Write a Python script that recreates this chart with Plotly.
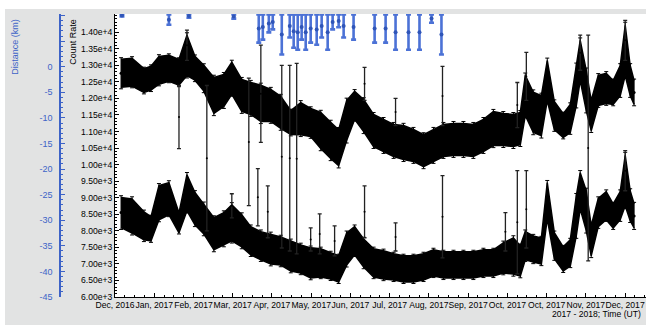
import numpy as np
import pandas as pd
import plotly.graph_objects as go

# ---------------- data (time = days since 2017-01-01 00:00 UT) ----------------
day = [-22.4, -14.0, -4.9, 0.5, 6.6, 14.2, 21.9, 28.0, 34.1, 40.9, 48.6, 56.2, 62.3, 69.9,
       76.8, 84.5, 92.1, 99.7, 107.4, 115.0, 122.6, 130.3, 137.9, 144.0, 150.1, 156.2,
       163.1, 170.7, 178.3, 186.0, 193.6, 201.2, 208.9, 216.5, 224.1, 231.8, 239.4, 247.0,
       254.7, 262.3, 269.9, 277.6, 282.9, 286.7, 292.8, 299.0, 303.5, 308.9, 315.7, 321.1,
       325.7, 328.7, 333.3, 337.1, 342.5, 348.6, 353.9, 359.3, 363.1, 366.9, 369.9]

rate_hi = [12760, 12790, 12540, 12610, 12850, 12910, 12790, 13300, 12910, 12610, 12090, 12240,
           12610, 12090, 12000, 11850, 11790, 11580, 11270, 11390, 11270, 11030, 10730, 10510,
           11330, 11790, 11480, 11030, 10880, 10730, 10670, 10580, 10420, 10580, 10730, 10760,
           10760, 10730, 10880, 11090, 11060, 11030, 11090, 12090, 11580, 11480, 12540, 11480,
           11180, 11390, 12390, 13150, 12240, 11480, 12240, 12300, 12180, 12540, 13450, 12540,
           12180]
err_hi = [420, 420, 360, 360, 420, 390, 390, 610, 360, 390, 545, 485, 485, 485, 485, 545, 485,
          485, 360, 485, 425, 545, 545, 545, 605, 425, 485, 485, 485, 485, 515, 485, 485, 485,
          485, 485, 485, 485, 485, 515, 485, 485, 485, 605, 605, 605, 605, 425, 360, 425, 605,
          605, 605, 455, 455, 455, 360, 455, 760, 455, 360]

rate_lo = [8550, 8450, 8150, 8060, 8850, 8970, 8240, 9150, 8670, 8360, 7910, 8060, 8240, 8000,
           7700, 7550, 7450, 7390, 7240, 7150, 7030, 7030, 6940, 6850, 7450, 7700, 7330, 7030,
           6970, 6910, 6850, 6850, 6910, 7030, 6970, 6970, 6970, 6970, 7030, 7030, 7180, 7240,
           7090, 7550, 7450, 7390, 8910, 7550, 7150, 7330, 8450, 9210, 8610, 7700, 8550, 8760,
           8450, 8760, 9520, 8760, 8450]
err_lo = [455, 515, 425, 365, 515, 485, 300, 545, 485, 455, 485, 485, 545, 485, 425, 425, 455,
          425, 455, 425, 455, 425, 395, 395, 485, 425, 425, 425, 425, 395, 395, 395, 395, 395,
          395, 395, 395, 395, 395, 395, 455, 545, 455, 425, 395, 395, 545, 395, 365, 395, 605,
          545, 605, 455, 425, 425, 365, 425, 760, 455, 365]

# isolated measurements with large errors (spikes)
spike_day = [21.9, 43.2, 75.3, 84.5, 82.2, 100.5, 106.6, 111.9, 89.8, 62.3, 122.6, 129.5, 140.9,
             163.8, 163.8, 187.5, 187.5, 223.4, 223.4, 271.5, 280.6, 280.6, 287.5, 287.5, 334.8,
             28.0, 328.7, 363.1, 363.1]
spike_rate = [11435, 10195, 10685, 12140, 9015, 10240, 10195, 10180, 8575, 8755, 7740, 7905, 7695,
              12440, 8575, 11590, 7815, 12075, 8425, 7970, 11800, 8260, 12665, 8650, 10500,
              13605, 13380, 13755, 9815]
spike_err = [955, 2195, 1925, 1470, 865, 2760, 2805, 2880, 785, 365, 350, 605, 455,
             500, 785, 410, 425, 895, 1245, 580, 680, 1560, 725, 1170, 3410,
             455, 530, 605, 605]

# distance (km)
dist_day = [-21.7, 14.2, 29.5, 63.8, 82.9, 86.0, 90.6, 93.6, 100.5, 106.6, 109.6, 112.7, 115.7,
            118.8, 122.6, 127.2, 131.0, 135.6, 139.4, 144.0, 147.8, 155.4, 171.5, 179.9, 187.5,
            197.4, 205.8, 215.0, 222.6]
dist_km = [10.0, 9.2, 9.9, 9.8, 7.45, 7.75, 8.45, 8.75, 6.3, 7.95, 6.95, 6.75, 7.75, 6.75, 7.45,
           7.25, 7.95, 6.75, 8.75, 8.95, 7.95, 7.75, 7.45, 7.45, 6.75, 6.75, 6.75, 9.4, 6.3]
dist_err = [0.2, 1.0, 0.3, 0.4, 2.75, 2.45, 1.75, 1.45, 3.9, 2.25, 3.25, 3.45, 2.45, 3.45, 2.75,
            2.95, 2.25, 3.45, 1.45, 1.25, 2.25, 2.45, 2.75, 2.75, 3.45, 3.45, 3.45, 0.8, 3.9]

x_labels = ["Dec, 2016", "Jan, 2017", "Feb, 2017", "Mar, 2017", "Apr, 2017", "May, 2017",
            "Jun, 2017", "Jul, 2017", "Aug, 2017", "Sep, 2017", "Oct, 2017", "Oct, 2017",
            "Nov, 2017", "Dec, 2017"]

# ---------------- helpers ----------------
T0 = pd.Timestamp("2017-01-01")


def to_time(d):
    return [T0 + pd.Timedelta(days=float(v)) for v in d]


def fmt_e(v):
    m, e = f"{v:.2e}".split("e")
    return f"{m}e{e[0]}{int(e[1:])}"


FONT = "Liberation Sans, Arial, sans-serif"
BLUE = "#3d63c7"

t = to_time(day)
fig = go.Figure()

for rate, err in ((rate_hi, err_hi), (rate_lo, err_lo)):
    r = np.array(rate, float)
    e = np.array(err, float)
    fig.add_trace(go.Scatter(x=t, y=r - e, mode="lines", line=dict(color="black", width=1.5),
                             hoverinfo="skip"))
    fig.add_trace(go.Scatter(x=t, y=r + e, mode="lines", line=dict(color="black", width=1.5),
                             fill="tonexty", fillcolor="black", hoverinfo="skip"))
    fig.add_trace(go.Scatter(x=t, y=r, mode="markers",
                             marker=dict(color="black", size=3),
                             error_y=dict(type="data", array=e * 1.12, color="black",
                                          thickness=1, width=2)))

fig.add_trace(go.Scatter(x=to_time(spike_day), y=spike_rate, mode="markers",
                         marker=dict(color="black", size=2),
                         error_y=dict(type="data", array=spike_err, color="#222222",
                                      thickness=1.3, width=2)))

fig.add_trace(go.Scatter(x=to_time(dist_day), y=dist_km, yaxis="y2", mode="markers",
                         marker=dict(color="#2f55b8", size=4),
                         error_y=dict(type="data", array=dist_err, color="#4c72d6",
                                      thickness=2.6, width=2.5)))

tickvals_x = [pd.Timestamp("2016-12-05") + pd.Timedelta(days=30 * k) for k in range(len(x_labels))]
rate_ticks = list(range(6000, 14001, 500))
dist_ticks = list(range(-45, 11, 5))

fig.update_layout(
    width=646, height=325,
    margin=dict(l=60, r=0, t=14, b=28),
    paper_bgcolor="#e2e3e3", plot_bgcolor="white",
    showlegend=False,
    font=dict(family=FONT, size=8.6, color="black"),
    xaxis=dict(
        domain=[0.0939, 1],
        range=[pd.Timestamp("2016-12-05"), pd.Timestamp("2018-01-15")],
        tickmode="array", tickvals=tickvals_x, ticktext=x_labels, tickangle=0,
        ticks="inside", ticklen=4, tickcolor="black", showgrid=False, zeroline=False,
        showline=True, linecolor="black", linewidth=1,
        minor=dict(ticks="inside", ticklen=2, tickcolor="black",
                   dtick=7.5 * 86400000, tick0="2016-12-05", showgrid=False),
        tickfont=dict(size=8.6, color="black"),
    ),
    yaxis=dict(
        anchor="x", range=[6000, 14550],
        tickmode="array", tickvals=rate_ticks, ticktext=[fmt_e(v) for v in rate_ticks],
        ticks="inside", ticklen=4, tickcolor="black", showgrid=False, zeroline=False,
        showline=True, linecolor="black", linewidth=1,
        minor=dict(ticks="inside", ticklen=2, tickcolor="black", dtick=100, showgrid=False),
        tickfont=dict(size=8.6, color="black"),
    ),
    yaxis2=dict(
        overlaying="y", anchor="free", position=0, side="left",
        range=[-45, 10.3],
        tickmode="array", tickvals=dist_ticks,
        ticktext=[str(v) if v <= 0 else "" for v in dist_ticks],
        ticks="inside", ticklen=4, tickcolor=BLUE, showgrid=False, zeroline=False,
        showline=True, linecolor=BLUE, linewidth=1.5,
        minor=dict(ticks="inside", ticklen=2, tickcolor=BLUE, dtick=1, showgrid=False),
        tickfont=dict(size=9, color=BLUE),
        ticklabelstandoff=5,
    ),
    shapes=[
        dict(type="rect", xref="paper", yref="paper", x0=-0.12, x1=1.05,
             y0=1.0177, y1=1.08, fillcolor="white", line=dict(width=0)),
        dict(type="rect", xref="paper", yref="paper", x0=-0.12, x1=-0.0939,
             y0=-0.2, y1=1.08, fillcolor="white", line=dict(width=0)),
    ],
    annotations=[
        dict(text="Distance (km)", xref="paper", yref="paper", x=-0.0768, y=0.99,
             xanchor="center", yanchor="top", textangle=-90, showarrow=False,
             font=dict(size=9, color=BLUE)),
        dict(text="Count Rate", xref="paper", yref="paper", x=0.022, y=0.99,
             xanchor="center", yanchor="top", textangle=-90, showarrow=False,
             font=dict(size=9, color="black")),
        dict(text="2017 - 2018; Time (UT)", xref="paper", yref="paper", x=0.995, y=-0.06,
             xanchor="right", yanchor="middle", showarrow=False,
             font=dict(size=8.6, color="black")),
    ],
)

fig.write_html("out.html")
